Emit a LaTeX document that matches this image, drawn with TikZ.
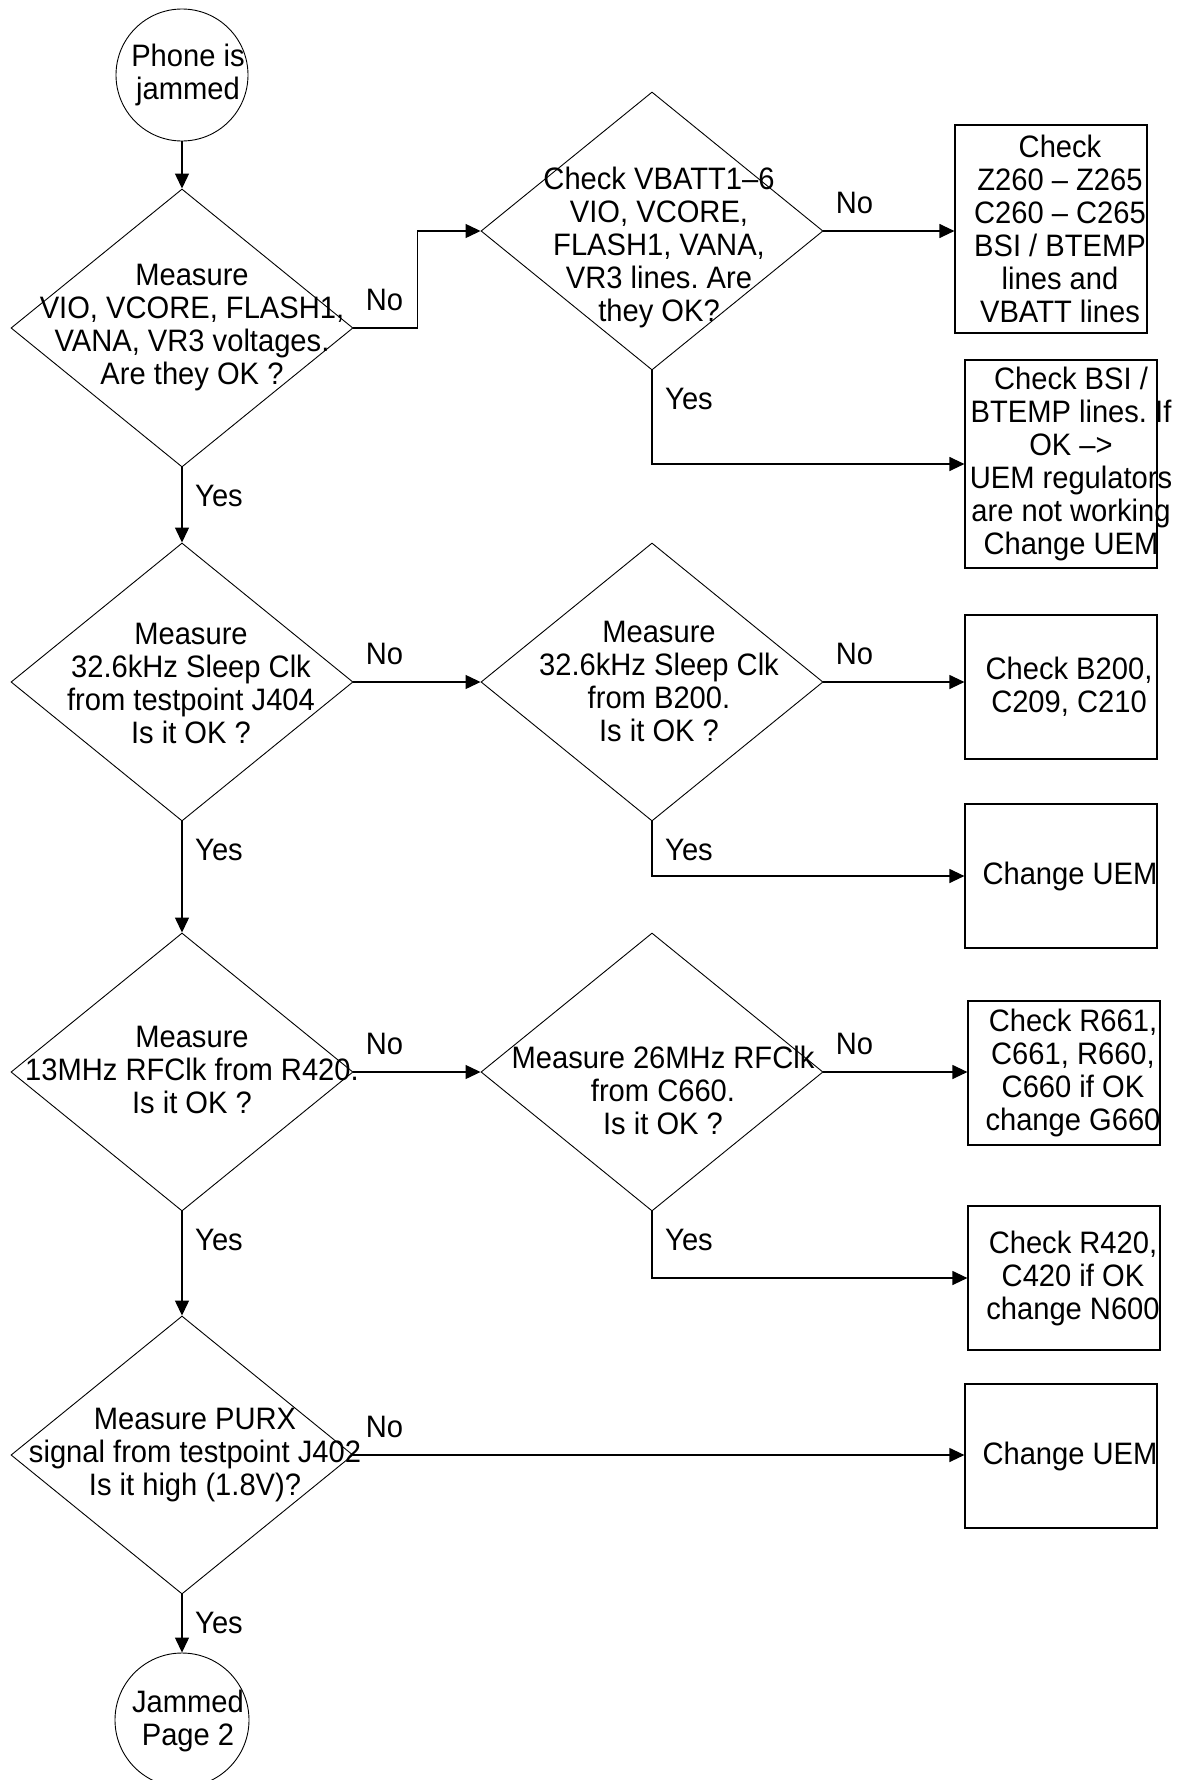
\documentclass[tikz,border=0pt]{standalone}
\usepackage{fontspec}
\setmainfont{Liberation Sans}[FakeStretch=0.94]
\frenchspacing
\usetikzlibrary{shapes.geometric,arrows.meta}
\begin{document}
\begin{tikzpicture}[x=1pt,y=-1pt]
\tikzstyle{every node}+=[inner sep=0pt,font=\fontsize{31}{33}\selectfont]
\tikzstyle{decision}=[draw=black,line width=0.9pt,shape=diamond,minimum width=342pt,minimum height=278pt]
\tikzstyle{terminal}=[draw=black,line width=0.9pt,circle,minimum size=132pt]
\tikzstyle{action}=[draw=black,line width=1.2pt,minimum width=192pt,minimum height=144pt]
\tikzstyle{txt}=[align=center]
\tikzstyle{conn}=[line width=1.2pt,-{Triangle[length=15pt,width=14pt]}]
\tikzstyle{nolbl}=[xshift=31pt,yshift=28pt]
\tikzstyle{yeslbl}=[xshift=37pt,yshift=-29pt]
\useasboundingbox (0,0) rectangle (1182,1780);
\node [terminal] (start) at (182,75) {};
\node [txt] (startt) at (188,75) {Phone is\\jammed};
\node [decision] (volt) at (182,328) {};
\node [txt] (voltt) at (192,328) {Measure\\VIO, VCORE, FLASH1,\\VANA, VR3 voltages.\\Are they OK ?};
\node [decision] (lines) at (652,231) {};
\node [txt] (linest) at (659,247) {Check VBATT1–6\\VIO, VCORE,\\FLASH1, VANA,\\VR3 lines. Are\\they OK?};
\node [action,minimum height=208pt] (zcheck) at (1051,229) {};
\node [txt] (zcheckt) at (1060,229) {Check\\Z260 – Z265\\C260 – C265\\BSI / BTEMP\\lines and\\VBATT lines};
\node [action,minimum height=208pt] (bsi) at (1061,464) {};
\node [txt] (bsit) at (1071,464) {Check BSI /\\BTEMP lines. If\\OK –>\\UEM regulators\\are not working\\Change UEM};
\node [decision] (sleep) at (182,682) {};
\node [txt] (sleept) at (191,683) {Measure\\32.6kHz Sleep Clk\\from testpoint J404\\Is it OK ?};
\node [decision] (xtal) at (652,682) {};
\node [txt] (xtalt) at (659,681) {Measure\\32.6kHz Sleep Clk\\from B200.\\Is it OK ?};
\node [action] (b200) at (1061,687) {};
\node [txt] (b200t) at (1069,687) {Check B200,\\C209, C210};
\node [action] (uem1) at (1061,876) {};
\node [txt] (uem1t) at (1070,876) {Change UEM};
\node [decision] (rfclk) at (182,1072) {};
\node [txt] (rfclkt) at (192,1070) {Measure\\13MHz RFClk from R420.\\Is it OK ?};
\node [decision] (vcxo) at (652,1072) {};
\node [txt] (vcxot) at (663,1090) {Measure 26MHz RFClk\\from C660.\\Is it OK ?};
\node [action] (g660) at (1064,1073) {};
\node [txt] (g660t) at (1073,1073) {Check R661,\\C661, R660,\\C660 if OK\\change G660};
\node [action] (n600) at (1064,1278) {};
\node [txt] (n600t) at (1073,1278) {Check R420,\\C420 if OK\\change N600};
\node [decision] (purx) at (182,1455) {};
\node [txt] (purxt) at (195,1455) {Measure PURX\\signal from testpoint J402\\Is it high (1.8V)?};
\node [action] (uem2) at (1061,1456) {};
\node [txt] (uem2t) at (1070,1456) {Change UEM};
\node [terminal,minimum size=134pt] (page2) at (182,1720) {};
\node [txt] (page2t) at (188,1721) {Jammed\\Page 2};
\draw [conn] (start) -- (volt);
\draw [conn] (volt.east) node [nolbl] {No} -- ++(64,0) |- (lines.west);
\draw [conn] (lines.east) node [nolbl] {No} -- (lines.east -| zcheck.west);
\draw [conn] (lines.south) node [yeslbl] {Yes} |- (bsi.west);
\draw [conn] (volt.south) node [yeslbl] {Yes} -- (sleep.north);
\draw [conn] (sleep.east) node [nolbl] {No} -- (xtal.west);
\draw [conn] (xtal.east) node [nolbl] {No} -- (xtal.east -| b200.west);
\draw [conn] (xtal.south) node [yeslbl] {Yes} |- (uem1.west);
\draw [conn] (sleep.south) node [yeslbl] {Yes} -- (rfclk.north);
\draw [conn] (rfclk.east) node [nolbl] {No} -- (vcxo.west);
\draw [conn] (vcxo.east) node [nolbl] {No} -- (vcxo.east -| g660.west);
\draw [conn] (vcxo.south) node [yeslbl] {Yes} |- (n600.west);
\draw [conn] (rfclk.south) node [yeslbl] {Yes} -- (purx.north);
\draw [conn] (purx.east) node [nolbl] {No} -- (purx.east -| uem2.west);
\draw [conn] (purx.south) node [yeslbl] {Yes} -- (page2.north);
\end{tikzpicture}
\end{document}
